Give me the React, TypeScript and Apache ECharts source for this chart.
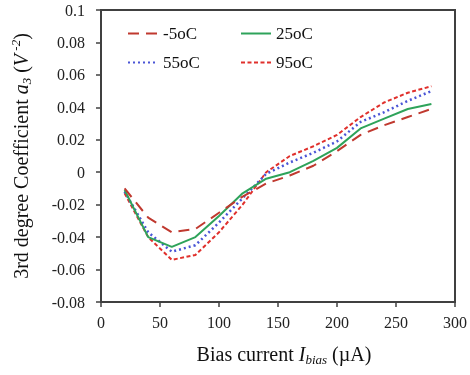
import React, { useEffect, useRef } from "react";
import * as echarts from "echarts";

const biasCurrent = [20, 40, 60, 80, 100, 120, 140, 160, 180, 200, 220, 240, 260, 280];
const seriesNames = ["-5oC", "25oC", "55oC", "95oC"];
const tempM5 = [-0.01, -0.028, -0.037, -0.035, -0.025, -0.015, -0.007, -0.002, 0.004, 0.013, 0.023, 0.029, 0.034, 0.039];
const temp25 = [-0.011, -0.04, -0.046, -0.04, -0.027, -0.013, -0.004, 0.0, 0.007, 0.015, 0.027, 0.033, 0.039, 0.042];
const temp55 = [-0.012, -0.037, -0.049, -0.045, -0.031, -0.016, -0.001, 0.006, 0.012, 0.019, 0.031, 0.037, 0.044, 0.05];
const temp95 = [-0.013, -0.04, -0.054, -0.051, -0.037, -0.02, 0.0, 0.01, 0.016, 0.023, 0.034, 0.043, 0.049, 0.053];

const FONT = "Liberation Serif";

export default function App() {
  const ref = useRef<HTMLDivElement>(null);
  useEffect(() => {
    if (!ref.current) return;
    const chart = echarts.init(ref.current, undefined, { renderer: "svg" });
    const pair = (ys: number[]) => biasCurrent.map((x, i) => [x, ys[i]]);
    const styles = [
      { color: "#c0392f", type: [11, 7], width: 2 },
      { color: "#2ea35a", type: "solid", width: 2 },
      { color: "#4a55d6", type: [2, 3], width: 2.5 },
      { color: "#e0302c", type: [4, 2.5], width: 2 },
    ];
    const datas = [tempM5, temp25, temp55, temp95];
    const legendBase = {
      orient: "vertical",
      itemWidth: 30,
      itemHeight: 14,
      itemGap: 12,
      itemStyle: { opacity: 0 },
      textStyle: { fontFamily: FONT, fontSize: 17, color: "#111" },
    };
    const rich = {
      n: { fontFamily: FONT, fontSize: 20, color: "#111", lineHeight: 24, verticalAlign: "middle" },
      i: { fontFamily: FONT, fontSize: 20, fontStyle: "italic", color: "#111", lineHeight: 24, verticalAlign: "middle" },
      sub: { fontFamily: FONT, fontSize: 13, fontStyle: "italic", color: "#111", lineHeight: 24, verticalAlign: "bottom" },
      sup: { fontFamily: FONT, fontSize: 13, fontStyle: "italic", color: "#111", lineHeight: 24, verticalAlign: "top" },
    };
    chart.setOption({
      animation: false,
      grid: {
        left: 101,
        right: 14,
        top: 10,
        bottom: 73,
        show: true,
        borderColor: "#404040",
        borderWidth: 2,
      },
      legend: [
        { ...legendBase, data: [seriesNames[0], seriesNames[2]], left: 122, top: 20 },
        { ...legendBase, data: [seriesNames[1], seriesNames[3]], left: 235, top: 20 },
      ],
      xAxis: {
        type: "value",
        min: 0,
        max: 300,
        interval: 50,
        splitLine: { show: false },
        axisLine: { show: true, onZero: false, lineStyle: { color: "#404040", width: 2 } },
        axisTick: { show: true, length: 5, lineStyle: { color: "#404040", width: 1.5 } },
        axisLabel: { fontFamily: FONT, fontSize: 16, color: "#222", margin: 12 },
        name: "{n|Bias current }{i|I}{sub|bias}{n| (µA)}",
        nameLocation: "middle",
        nameGap: 40,
        nameTextStyle: { fontFamily: FONT, rich, padding: [0, 0, 0, 12] },
      },
      yAxis: {
        type: "value",
        min: -0.08,
        max: 0.1,
        interval: 0.02,
        splitLine: { show: false },
        axisLine: { show: true, onZero: false, lineStyle: { color: "#404040", width: 2 } },
        axisTick: { show: true, length: 5, lineStyle: { color: "#404040", width: 1.5 } },
        axisLabel: {
          fontFamily: FONT,
          fontSize: 16,
          color: "#222",
          margin: 16,
          formatter: (v: number) => String(parseFloat(v.toFixed(2))),
        },
        name: "{n|3rd degree Coefficient }{i|a}{sub|3}{n| (}{i|V}{sup| -2}{n|)}",
        nameLocation: "middle",
        nameRotate: 90,
        nameGap: 68,
        nameTextStyle: { fontFamily: FONT, rich },
      },
      series: seriesNames.map((name, k) => ({
        name,
        type: "line",
        data: pair(datas[k]),
        symbol: "none",
        color: styles[k].color,
        lineStyle: styles[k],
        z: 10 - k,
      })),
    });
    return () => chart.dispose();
  }, []);
  return <div ref={ref} style={{ position: "fixed", left: 0, top: 0, width: 470, height: 375 }} />;
}
